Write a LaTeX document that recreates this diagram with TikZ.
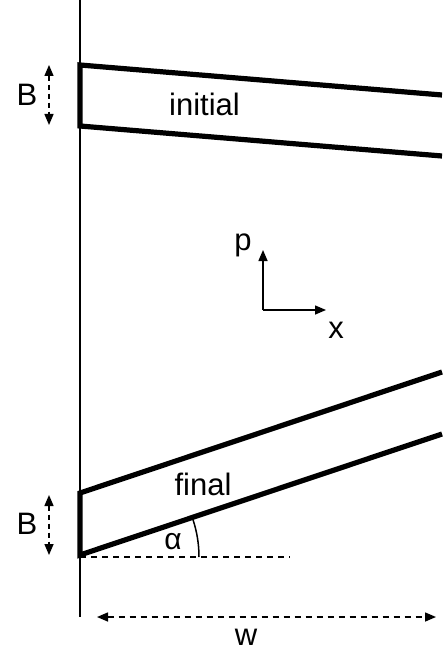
\documentclass[tikz,border=0pt]{standalone}
\usepackage{fontspec}
\setmainfont{Liberation Sans}
\usetikzlibrary{arrows.meta}
\begin{document}
\begin{tikzpicture}[x=1pt,y=-1pt,
  thickline/.style={line width=5.2pt,line join=miter},
  thinline/.style={line width=1.5pt},
  dashline/.style={line width=1.5pt,dash pattern=on 6pt off 5pt},
  ftip/.tip={Triangle[length=11pt,width=9pt]},
  lbl/.style={inner sep=0pt,font=\fontsize{31}{36}\selectfont}]
\useasboundingbox (0,0) rectangle (442,652);
% wall
\coordinate (wt) at (80,0);
\coordinate (wb) at (80,617);
\draw[thinline] (wt) -- (wb);
% initial band
\coordinate (i1) at (442,95);
\coordinate (i2) at (80,65);
\coordinate (i3) at (80,126);
\coordinate (i4) at (442,156);
\draw[thickline] (i1) -- (i2) -- (i3) -- (i4);
\node[lbl] (initial) at (204.5,104) {initial};
% B arrows
\coordinate (b1t) at (49,65);
\coordinate (b1b) at (49,125);
\draw[dashline,dash pattern=on 5pt off 4pt,{ftip}-{ftip}] (b1t) -- (b1b);
\node[lbl] (B1) at (27,95) {B};
\coordinate (b2t) at (49,495);
\coordinate (b2b) at (49,555);
\draw[dashline,dash pattern=on 5pt off 4pt,{ftip}-{ftip}] (b2t) -- (b2b);
\node[lbl] (B2) at (27,524) {B};
% final band
\coordinate (f1) at (442,372);
\coordinate (f2) at (80,493);
\coordinate (f3) at (80,555);
\coordinate (f4) at (442,434);
\draw[thickline] (f1) -- (f2) -- (f3) -- (f4);
\node[lbl] (final) at (203,484) {final};
% angle
\coordinate (d1) at (80,557);
\coordinate (d2) at (290,557);
\draw[dashline] (d1) -- (d2);
\draw[thinline] (199,557) arc[start angle=0,end angle=-18.4,radius=119];
\node[lbl,font=\fontsize{30}{34}\selectfont] (alpha) at (173,542) {α};
% p-x axes
\coordinate (o) at (263,310);
\coordinate (pt) at (263,250);
\coordinate (xt) at (326,310);
\draw[thinline,-{ftip}] (o) -- (pt);
\draw[thinline,-{ftip}] (o) -- (xt);
\node[lbl] (p) at (243,245) {p};
\node[lbl] (x) at (336,330) {x};
% w arrow
\coordinate (w1) at (97,617);
\coordinate (w2) at (436,617);
\draw[dashline,{ftip}-{ftip}] (w1) -- (w2);
\node[lbl] (w) at (246,637) {w};
\end{tikzpicture}
\end{document}
